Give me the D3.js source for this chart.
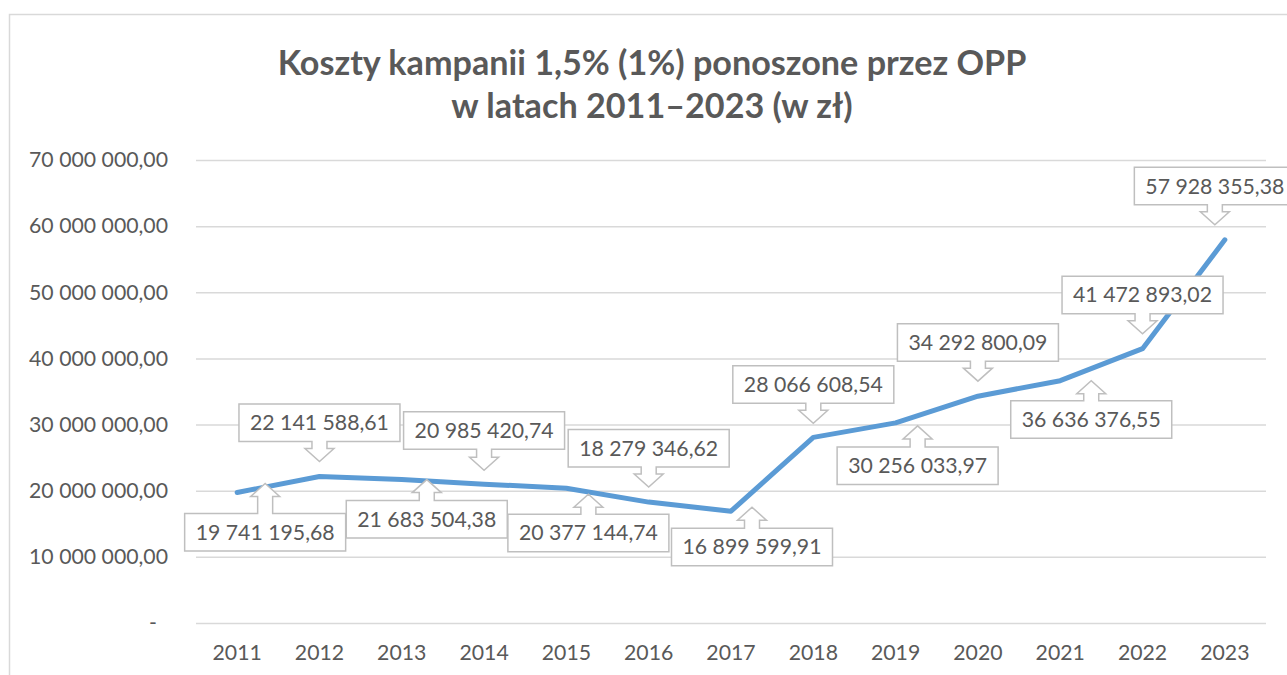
<!DOCTYPE html>
<html>
<head>
<meta charset="utf-8">
<script src="https://cdn.jsdelivr.net/npm/d3@7"></script>
<style>
  html, body { margin: 0; padding: 0; background: #fff; }
  svg { display: block; }
</style>
</head>
<body>
<svg id="chart" width="1287" height="675"></svg>
<script>
// Data
const years = ['2011', '2012', '2013', '2014', '2015', '2016', '2017', '2018', '2019', '2020', '2021', '2022', '2023'];
const costs = [19741195.68, 22141588.61, 21683504.38, 20985420.74, 20377144.74, 18279346.62, 16899599.91,
  28066608.54, 30256033.97, 34292800.09, 36636376.55, 41472893.02, 57928355.38];
const yTicks = [0, 10000000, 20000000, 30000000, 40000000, 50000000, 60000000, 70000000];
const titleLines = ['Koszty kampanii 1,5% (1%) ponoszone przez OPP', 'w latach 2011–2023 (w zł)'];

// callout placement (box above or below the point, arrow tip nudge in px, arrow length)
const calloutSide = ['below', 'above', 'below', 'above', 'below', 'above', 'below', 'above', 'below', 'above', 'below', 'above', 'above'];
const calloutNudge = [[28, -9], [0, -15], [25, 0], [0, -14], [22, 6], [0, -15], [21, -4], [0, -14], [22, 3], [0, -15], [31, 0], [0, -15], [-10, -15]];
const arrowLen = [30, 20, 21, 21, 20, 20, 21, 20, 21, 20, 20, 20, 20];

const width = 1287, height = 675;
const margin = { top: 160, right: 21, bottom: 52, left: 196 };
const textColor = '#595959';
const gridColor = '#d9d9d9';
const lineColor = '#5b9bd5';
const family = 'Lato, "Open Sans", sans-serif';

const svg = d3.select('#chart');

// fit font size so that a sample string has the given width
const fitSize = (text, weight, target) => {
  const t = svg.append('text')
    .attr('font-family', family)
    .attr('font-weight', weight)
    .attr('font-size', 100)
    .text(text);
  const w = t.node().getComputedTextLength();
  t.remove();
  return 100 * target / w;
};

const labelSize = fitSize('70 000 000,00', 400, 139);
const titleSize = fitSize(titleLines[0], 700, 749);

const pl = d3.formatLocale({ decimal: ',', thousands: '\u00a0', grouping: [3], currency: ['', ' zł'] });
const fmt = pl.format(',.2f');

// outer chart border
svg.append('rect')
  .attr('x', 9.5)
  .attr('y', 14.5)
  .attr('width', 1400)
  .attr('height', 800)
  .attr('fill', 'none')
  .attr('stroke', gridColor)
  .attr('stroke-width', 1.5);

// title
svg.append('text')
  .attr('text-anchor', 'middle')
  .attr('font-family', family)
  .attr('font-weight', 700)
  .attr('font-size', titleSize)
  .attr('fill', textColor)
  .selectAll('tspan')
  .data(titleLines)
  .enter()
  .append('tspan')
  .attr('x', 652)
  .attr('y', (d, i) => 75 + i * 43)
  .text(d => d);

// scales
const xScale = d3.scaleBand()
  .domain(years)
  .range([margin.left, width - margin.right]);

const yScale = d3.scaleLinear()
  .domain([0, 70000000])
  .range([height - margin.bottom, margin.top]);

const xc = d => xScale(d) + xScale.bandwidth() / 2;

// gridlines + y labels
const yAxis = d3.axisLeft(yScale)
  .tickValues(yTicks)
  .tickSize(-(width - margin.right - margin.left))
  .tickPadding(28)
  .tickFormat(d => d === 0 ? '-' : fmt(d));

const gy = svg.append('g')
  .attr('transform', `translate(${margin.left},0)`)
  .call(yAxis);
gy.select('.domain').remove();
gy.selectAll('.tick line')
  .attr('stroke', gridColor)
  .attr('stroke-width', 1.5);
gy.selectAll('.tick text')
  .attr('font-family', family)
  .attr('font-size', labelSize)
  .attr('fill', textColor)
  .attr('dx', d => d === 0 ? -11 : 0);

// x labels
const xAxis = d3.axisBottom(xScale)
  .tickSize(0)
  .tickPadding(22);

const gx = svg.append('g')
  .attr('transform', `translate(0,${height - margin.bottom})`)
  .call(xAxis);
gx.select('.domain').remove();
gx.selectAll('.tick text')
  .attr('font-family', family)
  .attr('font-size', labelSize)
  .attr('fill', textColor);

// line
const line = d3.line()
  .x((d, i) => xc(years[i]))
  .y(d => yScale(d));

svg.append('path')
  .datum(costs)
  .attr('fill', 'none')
  .attr('stroke', lineColor)
  .attr('stroke-width', 5)
  .attr('stroke-linecap', 'round')
  .attr('stroke-linejoin', 'round')
  .attr('d', line);

// callouts
const boxW = 161, boxH = 37.5;
const headH = 13, headW = 14.5, shaftW = 7.5;

const calloutPath = (tx, ty, side, len) => {
  const x1 = tx - boxW / 2, x2 = tx + boxW / 2;
  if (side === 'above') {
    const yb = ty - len, yt = yb - boxH, yh = ty - headH;
    return `M${x1},${yt}H${x2}V${yb}H${tx + shaftW}V${yh}H${tx + headW}L${tx},${ty}` +
      `L${tx - headW},${yh}H${tx - shaftW}V${yb}H${x1}Z`;
  }
  const yt = ty + len, yb = yt + boxH, yh = ty + headH;
  return `M${x1},${yb}H${x2}V${yt}H${tx + shaftW}V${yh}H${tx + headW}L${tx},${ty}` +
    `L${tx - headW},${yh}H${tx - shaftW}V${yt}H${x1}Z`;
};

const callouts = svg.append('g')
  .selectAll('g')
  .data(costs)
  .enter()
  .append('g');

callouts.each(function (d, i) {
  const g = d3.select(this);
  const tx = xc(years[i]) + calloutNudge[i][0];
  const ty = yScale(d) + calloutNudge[i][1];
  const side = calloutSide[i];
  g.append('path')
    .attr('d', calloutPath(tx, ty, side, arrowLen[i]))
    .attr('fill', '#fff')
    .attr('stroke', '#bfbfbf')
    .attr('stroke-width', 1.5);
  const cy = side === 'above' ? ty - arrowLen[i] - boxH / 2 : ty + arrowLen[i] + boxH / 2;
  g.append('text')
    .attr('x', tx)
    .attr('y', cy)
    .attr('dy', '0.35em')
    .attr('text-anchor', 'middle')
    .attr('font-family', family)
    .attr('font-size', labelSize)
    .attr('fill', textColor)
    .text(fmt(d));
});
</script>
</body>
</html>
